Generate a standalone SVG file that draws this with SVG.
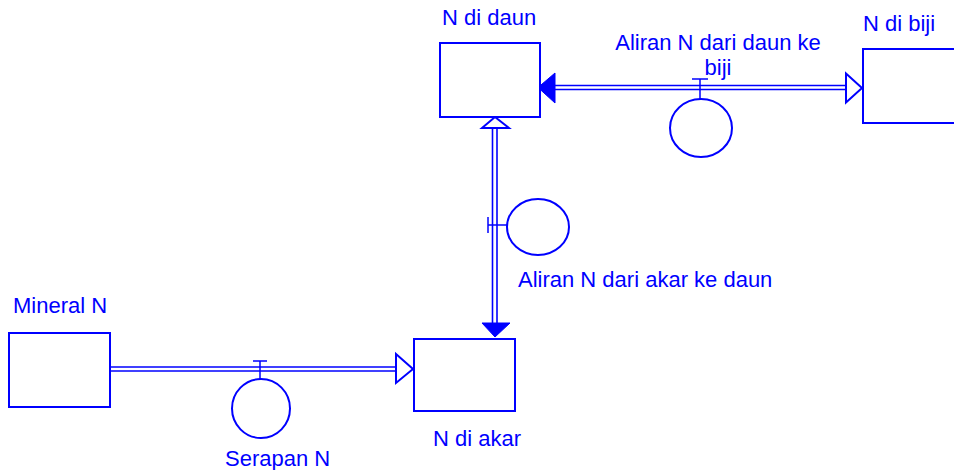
<svg xmlns="http://www.w3.org/2000/svg" width="954" height="470" viewBox="0 0 954 470">
  <style>
    .stock { fill: #ffffff; stroke: #0000ff; stroke-width: 2; }
    .valve { fill: none; stroke: #0000ff; stroke-width: 2; }
    .tick { stroke: #0000ff; stroke-width: 1.5; fill: none; }
    .pipe { stroke: #0000ff; stroke-width: 1.6; fill: none; }
    .head-open { fill: #ffffff; stroke: #0000ff; stroke-width: 2; stroke-linejoin: miter; }
    .head-solid { fill: #0000ff; stroke: #0000ff; stroke-width: 1; }
    .label { font-family: "Liberation Sans", Arial, sans-serif; font-size: 22px; fill: #0000ff; }
  </style>

  <rect width="954" height="470" fill="#ffffff"/>

  <!-- Pipes (double lines) and their arrowheads -->
  <g id="connectors">
    <!-- Mineral N -> N di akar -->
    <line class="pipe" x1="110" y1="367" x2="398" y2="367"/>
    <line class="pipe" x1="110" y1="371" x2="398" y2="371"/>
    <polygon class="head-open" points="396,354 413,369 396,383"/>

    <!-- N di akar <-> N di daun (vertical) -->
    <line class="pipe" x1="492.5" y1="126" x2="492.5" y2="324"/>
    <line class="pipe" x1="497" y1="126" x2="497" y2="324"/>
    <polygon class="head-open" points="482,128 495,117 509,128"/>
    <polygon class="head-solid" points="482,323 510,323 495,337"/>

    <!-- N di daun <-> N di biji (horizontal) -->
    <line class="pipe" x1="554" y1="85.5" x2="848" y2="85.5"/>
    <line class="pipe" x1="554" y1="89.5" x2="848" y2="89.5"/>
    <polygon class="head-solid" points="555,73 538,87.5 555,103"/>
    <polygon class="head-open" points="846,73.5 862,88 846,102.5"/>
  </g>

  <!-- Stocks -->
  <g id="stock-mineral-n">
    <rect class="stock" x="9" y="333" width="101" height="74"/>
    <text class="label" x="13" y="313">Mineral N</text>
  </g>

  <g id="stock-n-di-akar">
    <rect class="stock" x="414" y="339" width="101" height="72"/>
    <text class="label" x="433" y="446">N di akar</text>
  </g>

  <g id="stock-n-di-daun">
    <rect class="stock" x="440" y="43" width="100" height="74"/>
    <text class="label" x="442" y="25">N di daun</text>
  </g>

  <g id="stock-n-di-biji">
    <rect class="stock" x="863" y="49" width="100" height="74"/>
    <text class="label" x="863" y="31">N di biji</text>
  </g>

  <!-- Flow valves -->
  <g id="flow-serapan-n">
    <line class="tick" x1="253" y1="361" x2="267" y2="361"/>
    <line class="tick" x1="260" y1="361" x2="260" y2="379"/>
    <ellipse class="valve" cx="261" cy="408.5" rx="29" ry="29.5"/>
    <text class="label" x="225" y="466">Serapan N</text>
  </g>

  <g id="flow-aliran-akar-ke-daun">
    <line class="tick" x1="488" y1="217" x2="488" y2="233"/>
    <line class="tick" x1="488" y1="225" x2="507" y2="225"/>
    <ellipse class="valve" cx="538" cy="227" rx="31" ry="28"/>
    <text class="label" x="518" y="287">Aliran N dari akar ke daun</text>
  </g>

  <g id="flow-aliran-daun-ke-biji">
    <line class="tick" x1="692" y1="79" x2="708" y2="79"/>
    <line class="tick" x1="700" y1="79" x2="700" y2="99"/>
    <ellipse class="valve" cx="701" cy="128" rx="31" ry="29"/>
    <text class="label" text-anchor="middle" x="718" y="50">Aliran N dari daun ke</text>
    <text class="label" text-anchor="middle" x="718" y="75">biji</text>
  </g>
</svg>
